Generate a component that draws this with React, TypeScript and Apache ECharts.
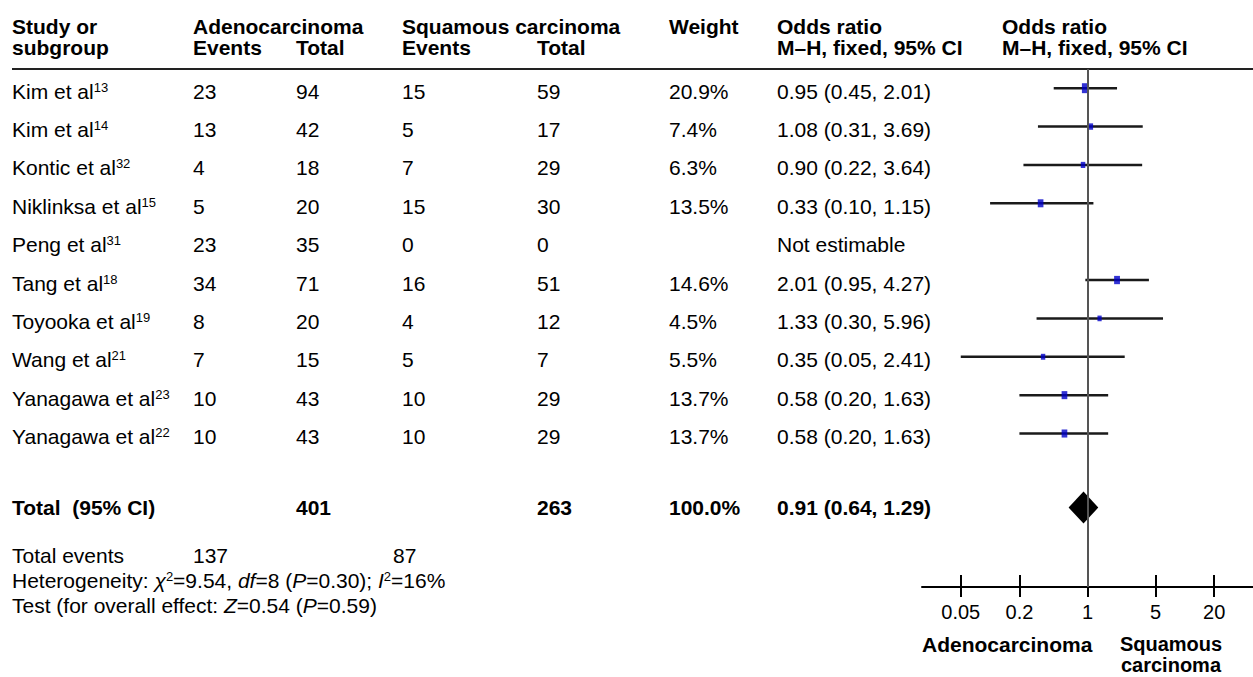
import React, { useEffect, useRef } from "react";
import * as echarts from "echarts";

const studyNames = ["Kim et al", "Kim et al", "Kontic et al", "Niklinksa et al", "Peng et al", "Tang et al", "Toyooka et al", "Wang et al", "Yanagawa et al", "Yanagawa et al"];
const studyRefs = ["13", "14", "32", "15", "31", "18", "19", "21", "23", "22"];
const adenoEvents = [23, 13, 4, 5, 23, 34, 8, 7, 10, 10];
const adenoTotal = [94, 42, 18, 20, 35, 71, 20, 15, 43, 43];
const squamEvents = [15, 5, 7, 15, 0, 16, 4, 5, 10, 10];
const squamTotal = [59, 17, 29, 30, 0, 51, 12, 7, 29, 29];
const weights: (number | null)[] = [20.9, 7.4, 6.3, 13.5, null, 14.6, 4.5, 5.5, 13.7, 13.7];
const oddsRatio: (number | null)[] = [0.95, 1.08, 0.9, 0.33, null, 2.01, 1.33, 0.35, 0.58, 0.58];
const ciLow: (number | null)[] = [0.45, 0.31, 0.22, 0.1, null, 0.95, 0.3, 0.05, 0.2, 0.2];
const ciHigh: (number | null)[] = [2.01, 3.69, 3.64, 1.15, null, 4.27, 5.96, 2.41, 1.63, 1.63];

const totalAdeno = 401;
const totalSquam = 263;
const totalWeight = 100.0;
const totalOR = 0.91;
const totalLow = 0.64;
const totalHigh = 1.29;
const totalEventsAdeno = 137;
const totalEventsSquam = 87;

const tickValues = [0.05, 0.2, 1, 5, 20];
const tickLabels = ["0.05", "0.2", "1", "5", "20"];

const FONT = "'Liberation Sans', Arial, Helvetica, sans-serif";
const FS = 21;
const TOTAL_ROW = 10.93;

const fmt2 = (v: number) => v.toFixed(2);

export default function App() {
  const ref = useRef<HTMLDivElement>(null);

  useEffect(() => {
    const el = ref.current!;
    const chart = echarts.init(el, null, { renderer: "svg" });
    const L = Math.log10;
    const tickLogs = tickValues.map(L);
    const gridBox = { left: 922, top: 69, width: 336, height: 518, containLabel: false };

    const ciData: number[][] = [];
    const pointData: any[] = [];
    studyNames.forEach((_, i) => {
      const o = oddsRatio[i], lo = ciLow[i], hi = ciHigh[i], w = weights[i];
      if (o != null && lo != null && hi != null && w != null) {
        ciData.push([L(lo), L(hi), i]);
        pointData.push({ value: [L(o), i], symbolSize: [3.5 + w * 0.16, 4.5 + w * 0.26] });
      }
    });

    const option: any = {
      animation: false,
      grid: [{ ...gridBox }, { ...gridBox }],
      xAxis: [
        {
          type: "value",
          gridIndex: 0,
          min: L(0.02),
          max: L(50),
          position: "bottom",
          axisLine: { show: true, onZero: false, lineStyle: { color: "#000", width: 2 } },
          axisTick: { show: true, inside: false, length: 10, customValues: tickLogs, lineStyle: { color: "#000", width: 2 } },
          axisLabel: {
            show: true,
            customValues: tickLogs,
            margin: 15,
            color: "#000",
            fontSize: FS - 1,
            fontFamily: FONT,
            formatter: (v: number) => {
              const k = tickLogs.findIndex((t) => Math.abs(t - v) < 1e-6);
              return k >= 0 ? tickLabels[k] : "";
            },
          },
          splitLine: { show: false },
        },
        {
          type: "value",
          gridIndex: 1,
          min: L(0.02),
          max: L(50),
          position: "bottom",
          axisLine: { show: false, onZero: false },
          axisTick: { show: true, inside: true, length: 12, customValues: tickLogs, lineStyle: { color: "#000", width: 2 } },
          axisLabel: { show: false },
          splitLine: { show: false },
        },
      ],
      yAxis: [
        { type: "value", gridIndex: 0, inverse: true, min: -0.5, max: 13, show: false },
        { type: "value", gridIndex: 1, min: 0, max: 1, show: false },
      ],
      series: [
        {
          type: "custom",
          xAxisIndex: 0,
          yAxisIndex: 0,
          z: 2,
          renderItem: (_p: any, api: any) => {
            const a = api.coord([api.value(0), api.value(2)]);
            const b = api.coord([api.value(1), api.value(2)]);
            return {
              type: "line",
              shape: { x1: a[0], y1: a[1], x2: b[0], y2: b[1] },
              style: { stroke: "#1a1a1a", lineWidth: 2.5 },
            };
          },
          encode: { x: [0, 1], y: 2 },
          data: ciData,
        },
        {
          type: "scatter",
          xAxisIndex: 0,
          yAxisIndex: 0,
          z: 4,
          symbol: "rect",
          itemStyle: { color: "#0000c8" },
          data: pointData,
          markLine: {
            silent: true,
            symbol: ["none", "none"],
            label: { show: false },
            lineStyle: { color: "#555", width: 2, type: "solid" },
            data: [{ xAxis: 0 }],
          },
        },
        {
          type: "custom",
          xAxisIndex: 0,
          yAxisIndex: 0,
          z: 4,
          renderItem: (_p: any, api: any) => {
            const lo = api.coord([api.value(0), api.value(3)]);
            const mid = api.coord([api.value(1), api.value(3)]);
            const hi = api.coord([api.value(2), api.value(3)]);
            const h = 16;
            return {
              type: "polygon",
              shape: { points: [[lo[0], lo[1]], [mid[0], mid[1] - h], [hi[0], hi[1]], [mid[0], mid[1] + h]] },
              style: { fill: "#000" },
            };
          },
          encode: { x: [0, 1, 2], y: 3 },
          data: [[L(totalLow), L(totalOR), L(totalHigh), TOTAL_ROW]],
        },
      ],
    };
    chart.setOption(option);

    const rowY = (i: number) => (chart.convertToPixel({ yAxisIndex: 0 }, i) as number) + 3;

    const base = { fontSize: FS, fontFamily: FONT, fill: "#000" };
    const rich = {
      n: { ...base, lineHeight: 21 },
      i: { ...base, fontStyle: "italic", lineHeight: 21 },
      s: { fontSize: 13, fontFamily: FONT, fill: "#000", verticalAlign: "top", lineHeight: 13 },
    };
    const txt = (x: number, y: number, text: string, bold = false, align = "left", size = FS) => ({
      type: "text",
      x,
      y,
      silent: true,
      style: {
        text,
        fill: "#000",
        fontSize: size,
        lineHeight: size,
        fontFamily: FONT,
        fontWeight: bold ? "bold" : "normal",
        align,
        verticalAlign: "middle",
      },
    });
    const rtxt = (x: number, y: number, text: string) => ({
      type: "text",
      x,
      y,
      silent: true,
      style: { text, rich, align: "left", verticalAlign: "middle", fill: "#000", fontSize: FS, fontFamily: FONT },
    });

    const cols = [12, 193, 296, 402, 537, 669, 777, 1002];
    const h1 = 26;
    const h2 = 47;
    const els: any[] = [
      txt(cols[0], h1, "Study or", true),
      txt(cols[0], h2, "subgroup", true),
      txt(cols[1], h1, "Adenocarcinoma", true),
      txt(cols[1], h2, "Events", true),
      txt(cols[2], h2, "Total", true),
      txt(cols[3], h1, "Squamous carcinoma", true),
      txt(cols[3], h2, "Events", true),
      txt(cols[4], h2, "Total", true),
      txt(cols[5], h1, "Weight", true),
      txt(cols[6], h1, "Odds ratio", true),
      txt(cols[6], h2, "M\u2013H, fixed, 95% CI", true),
      txt(cols[7], h1, "Odds ratio", true),
      txt(cols[7], h2, "M\u2013H, fixed, 95% CI", true),
      {
        type: "line",
        silent: true,
        shape: { x1: 12, y1: 69, x2: 1253, y2: 69 },
        style: { stroke: "#222", lineWidth: 2 },
      },
    ];

    studyNames.forEach((name, i) => {
      const y = rowY(i);
      els.push(rtxt(cols[0], y, `{n|${name}}{s|${studyRefs[i]}}`));
      els.push(txt(cols[1], y, String(adenoEvents[i])));
      els.push(txt(cols[2], y, String(adenoTotal[i])));
      els.push(txt(cols[3], y, String(squamEvents[i])));
      els.push(txt(cols[4], y, String(squamTotal[i])));
      const w = weights[i], o = oddsRatio[i], lo = ciLow[i], hi = ciHigh[i];
      if (w != null) els.push(txt(cols[5], y, `${w.toFixed(1)}%`));
      if (o != null && lo != null && hi != null) {
        els.push(txt(cols[6], y, `${fmt2(o)} (${fmt2(lo)}, ${fmt2(hi)})`));
      } else {
        els.push(txt(cols[6], y, "Not estimable"));
      }
    });

    const ty = chart.convertToPixel({ yAxisIndex: 0 }, TOTAL_ROW) as number;
    els.push(txt(cols[0], ty, "Total  (95% CI)", true));
    els.push(txt(cols[2], ty, String(totalAdeno), true));
    els.push(txt(cols[4], ty, String(totalSquam), true));
    els.push(txt(cols[5], ty, `${totalWeight.toFixed(1)}%`, true));
    els.push(txt(cols[6], ty, `${fmt2(totalOR)} (${fmt2(totalLow)}, ${fmt2(totalHigh)})`, true));

    els.push(txt(cols[0], 555, "Total events"));
    els.push(txt(cols[1], 555, String(totalEventsAdeno)));
    els.push(txt(393, 555, String(totalEventsSquam)));
    els.push(rtxt(cols[0], 580, "{n|Heterogeneity: }{i|\u03c7}{s|2}{n|=9.54, }{i|df}{n|=8 (}{i|P}{n|=0.30); }{i|I}{s|2}{n|=16%}"));
    els.push(rtxt(cols[0], 605, "{n|Test (for overall effect: }{i|Z}{n|=0.54 (}{i|P}{n|=0.59)}"));

    els.push(txt(922, 644, "Adenocarcinoma", true));
    els.push(txt(1171, 644, "Squamous", true, "center", 20));
    els.push(txt(1171, 665, "carcinoma", true, "center", 20));

    chart.setOption({ graphic: { elements: els } });

    return () => {
      chart.dispose();
    };
  }, []);

  return (
    <div
      ref={ref}
      style={{ position: "absolute", left: 0, top: 0, width: 1253, height: 677, background: "#fff" }}
    />
  );
}
